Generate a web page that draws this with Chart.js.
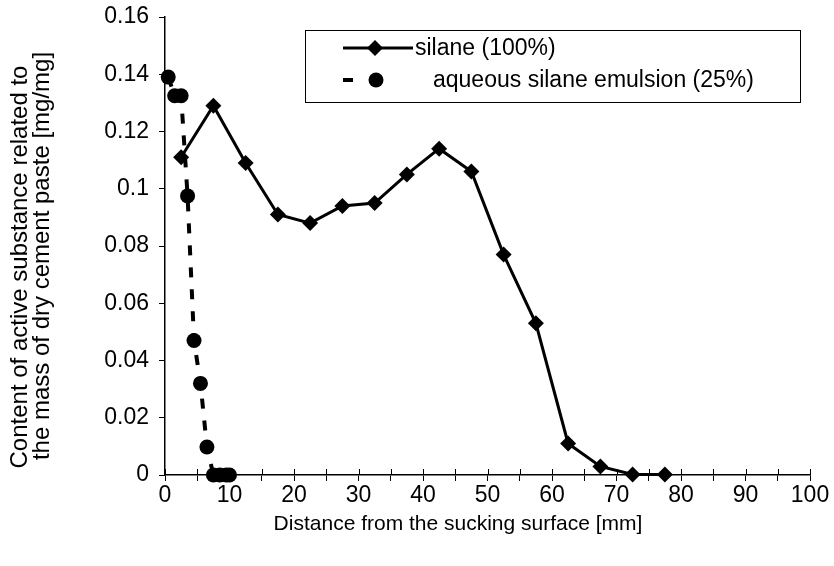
<!DOCTYPE html>
<html>
<head>
<meta charset="utf-8">
<script src="https://cdn.jsdelivr.net/npm/chart.js@4/dist/chart.umd.min.js"></script>
<style>
    html, body { margin: 0; padding: 0; background: #fff; }
    #wrap { width: 834px; height: 566px; position: relative; }
</style>
</head>
<body>
<div id="wrap"><canvas id="profileChart"></canvas></div>
<script>
// Distance from the sucking surface [mm]
const silaneDistance = [2.5, 7.5, 12.5, 17.5, 22.5, 27.5, 32.5, 37.5, 42.5, 47.5, 52.5, 57.5, 62.5, 67.5, 72.5, 77.5];
const silaneContent = [0.111, 0.129, 0.109, 0.091, 0.088, 0.094, 0.095, 0.105, 0.114, 0.106, 0.077, 0.053, 0.011, 0.003, 0.0002, 0.0002];

const emulsionDistance = [0.5, 1.5, 2.5, 3.5, 4.5, 5.5, 6.5, 7.5, 8.5, 9.5, 10];
const emulsionContent = [0.139, 0.1325, 0.1325, 0.0975, 0.047, 0.032, 0.0098, 0, 0, 0, 0];

const seriesLabels = ['silane (100%)', 'aqueous silane emulsion (25%)'];
const yTitle = ['Content of active substance related to', 'the mass of dry cement paste [mg/mg]'];
const xTitle = 'Distance from the sucking surface [mm]';

const FONT = "'Liberation Sans', Arial, sans-serif";

// Legend box inside the plot, axis titles, and ticks crossing the x axis
const extras = {
    id: 'extras',
    afterDraw(chart) {
        const ctx = chart.ctx;
        const ca = chart.chartArea;
        const xs = chart.scales.x;
        ctx.save();

        // tick marks above the x axis too
        ctx.strokeStyle = '#000';
        ctx.lineWidth = 1;
        xs.ticks.forEach(t => {
            const px = Math.round(xs.getPixelForValue(t.value)) + 0.5;
            ctx.beginPath();
            ctx.moveTo(px, ca.bottom - 6);
            ctx.lineTo(px, ca.bottom);
            ctx.stroke();
        });

        // x axis title
        ctx.fillStyle = '#000';
        ctx.font = '21px ' + FONT;
        ctx.textAlign = 'center';
        ctx.textBaseline = 'middle';
        ctx.fillText(xTitle, ca.left + 293, ca.bottom + 49);

        // y axis title, two lines
        ctx.save();
        ctx.translate(20, ca.top + 250);
        ctx.rotate(-Math.PI / 2);
        ctx.font = '24px ' + FONT;
        ctx.fillText(yTitle[0], 0, 0);
        ctx.fillText(yTitle[1], 11, 22);
        ctx.restore();

        // legend
        const left = ca.left + 140, top = ca.top + 13;
        const w = 495, h = 72;
        ctx.fillStyle = '#fff';
        ctx.fillRect(left, top, w, h);
        ctx.strokeStyle = '#000';
        ctx.lineWidth = 1;
        ctx.strokeRect(left + 0.5, top + 0.5, w, h);

        let y = top + 18;
        ctx.lineWidth = 3;
        ctx.beginPath();
        ctx.moveTo(left + 38, y);
        ctx.lineTo(left + 108, y);
        ctx.stroke();
        ctx.fillStyle = '#000';
        ctx.beginPath();
        ctx.moveTo(left + 70, y - 8);
        ctx.lineTo(left + 78, y);
        ctx.lineTo(left + 70, y + 8);
        ctx.lineTo(left + 62, y);
        ctx.closePath();
        ctx.fill();

        ctx.font = '23px ' + FONT;
        ctx.textAlign = 'left';
        ctx.fillText(seriesLabels[0], left + 110, y + 1);

        y = top + 50;
        ctx.lineWidth = 4;
        ctx.beginPath();
        ctx.moveTo(left + 38, y);
        ctx.lineTo(left + 48, y);
        ctx.stroke();
        ctx.beginPath();
        ctx.arc(left + 71, y, 7.5, 0, Math.PI * 2);
        ctx.fill();
        ctx.fillText(seriesLabels[1], left + 128, y + 1);
        ctx.restore();
    }
};

const ctx = document.getElementById('profileChart').getContext('2d');
new Chart(ctx, {
    type: 'scatter',
    data: {
        datasets: [
            {
                label: seriesLabels[1],
                data: emulsionDistance.map((x, i) => ({ x: x, y: emulsionContent[i] })),
                showLine: true,
                clip: false,
                borderColor: '#000',
                backgroundColor: '#000',
                borderWidth: 4,
                borderDash: [10, 12],
                pointStyle: 'circle',
                pointRadius: 7.5,
                pointBorderWidth: 0,
                pointHoverRadius: 7.5
            },
            {
                label: seriesLabels[0],
                data: silaneDistance.map((x, i) => ({ x: x, y: silaneContent[i] })),
                showLine: true,
                clip: false,
                borderColor: '#000',
                backgroundColor: '#000',
                borderWidth: 3,
                pointStyle: 'rectRot',
                pointRadius: 8,
                pointBorderWidth: 0,
                pointHoverRadius: 8
            }
        ]
    },
    options: {
        responsive: true,
        maintainAspectRatio: false,
        animation: false,
        layout: {
            padding: { left: 2, right: 24, top: 17, bottom: 0 }
        },
        plugins: {
            legend: { display: false },
            tooltip: { enabled: false }
        },
        scales: {
            x: {
                type: 'linear',
                min: 0,
                max: 100,
                afterFit: scale => { scale.height = 91; },
                ticks: {
                    stepSize: 5,
                    autoSkip: false,
                    maxRotation: 0,
                    color: '#000',
                    font: { family: FONT, size: 23 },
                    padding: 1,
                    callback: v => (v % 10 === 0 ? String(v) : '')
                },
                grid: {
                    drawOnChartArea: false,
                    color: '#000',
                    tickLength: 6
                },
                border: { color: '#000', width: 1.5 }
            },
            y: {
                min: 0,
                max: 0.16,
                afterFit: scale => {
                    scale.width = 163;
                    scale.paddingTop = 0;
                    scale.paddingBottom = 0;
                },
                ticks: {
                    stepSize: 0.02,
                    color: '#000',
                    font: { family: FONT, size: 23 },
                    padding: 10,
                    callback: v => String(parseFloat(v.toFixed(2)))
                },
                grid: {
                    drawOnChartArea: false,
                    color: '#000',
                    tickLength: 6
                },
                border: { color: '#000', width: 1.5 }
            }
        }
    },
    plugins: [extras]
});
</script>
</body>
</html>
